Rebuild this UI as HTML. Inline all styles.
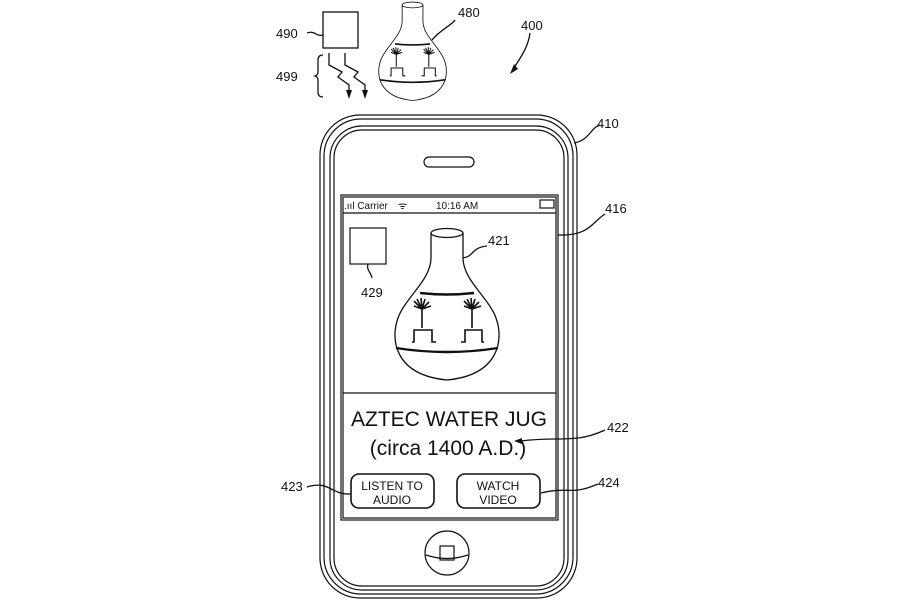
<!DOCTYPE html>
<html><head><style>
html,body{margin:0;padding:0;background:#fff;width:900px;height:600px;overflow:hidden}
svg text{font-family:"Liberation Sans",sans-serif;fill:#111}
</style></head><body>
<svg width="900" height="600" viewBox="0 0 900 600" xmlns="http://www.w3.org/2000/svg">
<defs>
<g id="jug" fill="none" stroke="#111" stroke-width="1.3">
  <ellipse cx="447" cy="233" rx="16" ry="4.5"/>
  <path d="M431,233 L431,258 C431,280 405,298 398,318 C390,340 395,375 447,380 C499,375 504,340 496,318 C489,298 463,280 463,258 L463,233"/>
  <path d="M420,293 Q447,296 474,293" stroke-width="2.4"/>
  <path d="M396,348 Q447,356 498,348" stroke-width="2.4"/>
  <g stroke-width="1.6">
    <path d="M422,328 L422,309 M422,309 L414,301 M422,309 L417,299 M422,309 L421,298 M422,309 L425,299 M422,309 L429,302 M422,309 L431,306 M422,309 L414,306"/>
    <path d="M412,342 L414,342 L414,330 L432,330 L432,342 L436,342"/>
    <path d="M472,328 L472,309 M472,309 L464,301 M472,309 L467,299 M472,309 L471,298 M472,309 L475,299 M472,309 L479,302 M472,309 L481,306 M472,309 L464,306"/>
    <path d="M461,342 L465,342 L465,330 L482,330 L482,342 L484,342"/>
  </g>
</g>
</defs>

<rect x="323" y="12" width="35" height="36" fill="none" stroke="#111" stroke-width="1.3"/>
<g transform="translate(122,-146.5) scale(0.65)"><use href="#jug"/></g>
<g fill="none" stroke="#111" stroke-width="1.3">
  <path d="M329,53 L329,65 L342,72 L338,77 L349,85 L349,95"/>
  <path d="M345,53 L345,65 L358,72 L354,77 L365,85 L365,95"/>
  <path d="M323,55 Q318,55 318,60 L318,72 Q318,75 315,76 Q318,77 318,80 L318,92 Q318,97 323,97"/>
  <path d="M307,33 C315,30 316,37 323,35"/>
  <path d="M432,40 C440,30 452,25 455,20"/>
  <path d="M530,33 C528,48 520,58 514,68"/>
  <path d="M574,143 C590,140 590,128 600,125"/>
  <path d="M558,235 C590,236 592,222 605,214"/>
  <path d="M368,264 C366,270 371,272 372,278"/>
  <path d="M463,258 C475,256 470,248 487,246"/>
  <path d="M521,441 C560,436 575,444 605,430"/>
  <path d="M307,487 C330,480 330,495 351,494"/>
  <path d="M541,493 C570,486 570,496 598,484"/>
</g>
<path d="M510,74 L514,64 L518,69 Z" fill="#111"/>
<path d="M346,90 L349,99 L352,90 Z" fill="#111"/>
<path d="M362,90 L365,99 L368,90 Z" fill="#111"/>
<path d="M514,441 L522,438 L522,444 Z" fill="#111"/>
<text x="276" y="38" font-size="13">490</text>
<text x="458" y="17" font-size="13">480</text>
<text x="521" y="30" font-size="13">400</text>
<text x="276" y="81" font-size="13">499</text>
<text x="597" y="128" font-size="13">410</text>
<text x="605" y="213" font-size="13">416</text>

<g fill="none" stroke="#111" stroke-width="1.2">
  <rect x="320" y="115" width="257" height="483" rx="40"/>
  <rect x="324" y="119" width="249" height="475" rx="37"/>
  <rect x="330" y="126" width="238" height="464" rx="32"/>
  <rect x="334" y="130" width="230" height="456" rx="28"/>
  <rect x="424" y="157" width="50" height="10" rx="5"/>
  <rect x="341" y="195" width="217" height="325"/>
  <rect x="343" y="197" width="213" height="321"/>
  <line x1="343" y1="213" x2="556" y2="213"/>
  <line x1="343" y1="393" x2="556" y2="393"/>
  <circle cx="447" cy="553" r="22"/>
  <rect x="440" y="546" width="14" height="14"/>
  <path d="M426,555 Q447,562 468,555"/>
  <rect x="540" y="200" width="14" height="8"/>
  <rect x="350" y="228" width="36" height="36"/>
  <rect x="351" y="474" width="83" height="34" rx="8" stroke-width="1.6"/>
  <rect x="457" y="474" width="83" height="34" rx="8" stroke-width="1.6"/>
</g>
<text x="344" y="209" font-size="10">.ııl Carrier</text>
<text x="398" y="209" font-size="10">ᯤ</text>
<text x="436" y="209" font-size="10">10:16 AM</text>
<use href="#jug"/>
<text x="361" y="297" font-size="13">429</text>
<text x="488" y="245" font-size="13">421</text>
<text x="449" y="426" font-size="21" text-anchor="middle">AZTEC WATER JUG</text>
<text x="448" y="455" font-size="21" text-anchor="middle">(circa 1400 A.D.)</text>
<text x="392" y="490" font-size="12" text-anchor="middle">LISTEN TO</text>
<text x="392" y="504" font-size="12" text-anchor="middle">AUDIO</text>
<text x="498" y="490" font-size="12" text-anchor="middle">WATCH</text>
<text x="498" y="504" font-size="12" text-anchor="middle">VIDEO</text>
<text x="607" y="432" font-size="13">422</text>
<text x="281" y="491" font-size="13">423</text>
<text x="598" y="487" font-size="13">424</text>
</svg>
</body></html>
